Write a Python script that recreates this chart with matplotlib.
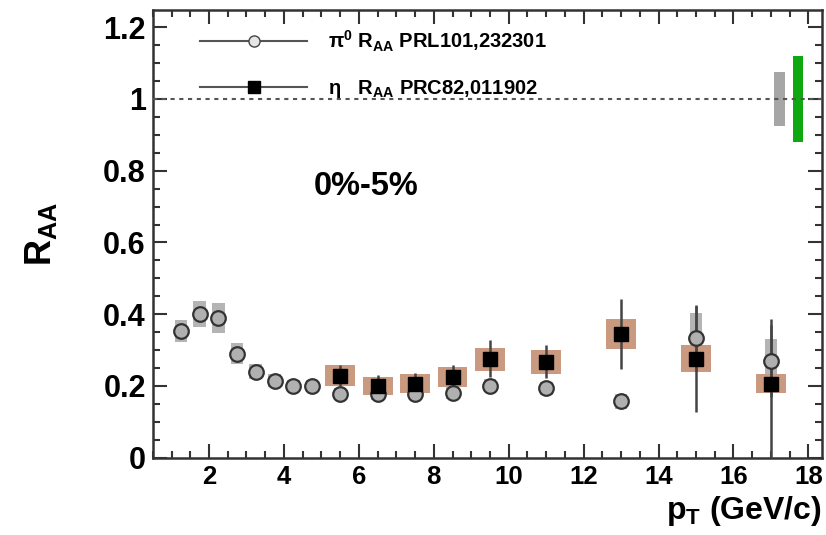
import matplotlib
matplotlib.use("Agg")
import matplotlib.pyplot as plt
from matplotlib.lines import Line2D
from matplotlib.ticker import MultipleLocator
import numpy as np

plt.rcParams['font.family'] = ['Liberation Sans', 'DejaVu Sans']
plt.rcParams['font.weight'] = 'bold'
plt.rcParams['mathtext.fontset'] = 'custom'
plt.rcParams['mathtext.rm'] = 'Liberation Sans'
plt.rcParams['mathtext.it'] = 'Liberation Sans'
plt.rcParams['mathtext.bf'] = 'Liberation Sans:bold'

# pi0 R_AA (PRL101,232301)
pi0_pt = [1.25, 1.75, 2.25, 2.75, 3.25, 3.75, 4.25, 4.75, 5.5, 6.5, 7.5, 8.5, 9.5, 11, 13, 15, 17]
pi0_raa = [0.353, 0.400, 0.390, 0.290, 0.240, 0.215, 0.200, 0.200, 0.178, 0.178, 0.178, 0.180, 0.200, 0.194, 0.157, 0.333, 0.270]
pi0_stat = [0.01, 0.01, 0.01, 0.01, 0.01, 0.01, 0.01, 0.01, 0.01, 0.01, 0.01, 0.01, 0.012, 0.014, 0.02, 0.09, 0.10]
pi0_sys = [0.030, 0.037, 0.042, 0.030, 0.020, 0.018, 0.017, 0.017, 0.017, 0.016, 0.016, 0.017, 0.018, 0.018, 0.020, 0.070, 0.062]

# eta R_AA (PRC82,011902)
eta_pt = [5.5, 6.5, 7.5, 8.5, 9.5, 11, 13, 15, 17]
eta_raa = [0.229, 0.200, 0.206, 0.225, 0.274, 0.267, 0.345, 0.276, 0.206]
eta_stat_lo = [0.03, 0.03, 0.03, 0.03, 0.05, 0.045, 0.098, 0.15, 0.206]
eta_stat_hi = [0.03, 0.03, 0.03, 0.034, 0.053, 0.046, 0.098, 0.15, 0.18]
eta_sys = [0.030, 0.025, 0.027, 0.027, 0.033, 0.033, 0.043, 0.037, 0.027]

# global (normalisation) uncertainties drawn at R_AA = 1
glob_pt = [17.23, 17.72]
glob_err = [0.076, 0.121]
glob_col = ['#a6a6a6', '#10a810']

fig = plt.figure(figsize=(8.26, 5.35), dpi=100)
ax = fig.add_axes([0.185, 0.1445, 0.81, 0.8368])

ax.axhline(1.0, color='#555555', lw=1.5, ls=(0, (2, 2.2)), zorder=6)

# systematic boxes
ax.bar(pi0_pt, 2 * np.array(pi0_sys), width=0.34, bottom=np.array(pi0_raa) - np.array(pi0_sys),
       color='#b4b4b4', edgecolor='none', zorder=1)
ax.bar(eta_pt, 2 * np.array(eta_sys), width=0.8, bottom=np.array(eta_raa) - np.array(eta_sys),
       color='#c99a80', edgecolor='none', zorder=2)
ax.bar(glob_pt, 2 * np.array(glob_err), width=0.28, bottom=1 - np.array(glob_err),
       color=glob_col, edgecolor='none', zorder=5)

# statistical errors
ax.errorbar(pi0_pt, pi0_raa, yerr=pi0_stat, fmt='none', ecolor='#555555', elinewidth=1.8, capsize=0, zorder=3)
ax.errorbar(eta_pt, eta_raa, yerr=[eta_stat_lo, eta_stat_hi], fmt='none', ecolor='#444444',
            elinewidth=1.8, capsize=0, zorder=3)

ax.plot(pi0_pt, pi0_raa, 'o', ms=10.5, mfc='#b0b0b0', mec='#333333', mew=1.6, zorder=4)
ax.plot(eta_pt, eta_raa, 's', ms=10, mfc='black', mec='black', zorder=5)

ax.set_xlim(0.5, 18.36)
ax.set_ylim(0, 1.248)
ax.xaxis.set_major_locator(MultipleLocator(2))
ax.xaxis.set_minor_locator(MultipleLocator(0.5))
ax.yaxis.set_major_locator(MultipleLocator(0.2))
ax.yaxis.set_minor_locator(MultipleLocator(0.05))
ax.set_xticks([2, 4, 6, 8, 10, 12, 14, 16, 18])
ax.set_xticklabels(['2', '4', '6', '8', '10', '12', '14', '16', '18'])
ax.set_yticks([0, 0.2, 0.4, 0.6, 0.8, 1.0, 1.2])
ax.set_yticklabels(['0', '0.2', '0.4', '0.6', '0.8', '1', '1.2'])
ax.tick_params(which='both', direction='in', top=True, right=True, width=1.5, color='#333333', pad=5)
ax.tick_params(axis='x', labelsize=18.5)
ax.tick_params(axis='y', labelsize=22)
ax.tick_params(which='major', length=10)
ax.tick_params(which='minor', length=5)
for s in ax.spines.values():
    s.set_linewidth(1.8)
    s.set_color('#333333')

ax.set_ylabel(r'R$_{\mathbf{AA}}$', fontsize=26, fontweight='bold')
ax.yaxis.set_label_coords(-0.14, 0.5)
ax.set_xlabel(r'p$_{\mathbf{T}}$ (GeV/c)', fontsize=23, fontweight='bold', ha='right')
ax.xaxis.set_label_coords(1.0, -0.08)

ax.text(4.79, 0.732, '0%-5%', fontsize=23.5, fontweight='bold')

h_pi0 = Line2D([], [], color='#555555', lw=1.5, marker='o', ms=8, mfc='#e6e6e6', mec='#444444')
h_eta = Line2D([], [], color='#555555', lw=1.5, marker='s', ms=8, mfc='black', mec='black')
ax.legend([h_pi0, h_eta],
          [r'$\mathrm{\pi}^{0}$ R$_{\mathbf{AA}}$ PRL101,232301',
           r'$\mathrm{\eta}\ \ $ R$_{\mathbf{AA}}$ PRC82,011902'],
          loc='upper left', bbox_to_anchor=(0.071, 0.959), frameon=False, fontsize=14.5,
          handlelength=5.3, handletextpad=1.05, labelspacing=1.22, borderpad=0, borderaxespad=0)

fig.savefig('out.png', dpi=100)
